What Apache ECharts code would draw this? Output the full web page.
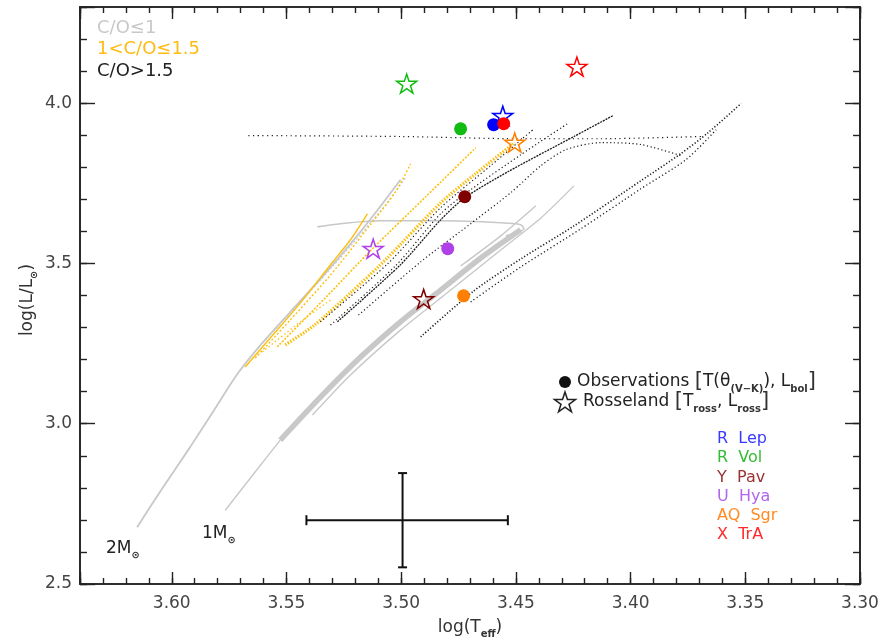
<!DOCTYPE html>
<html><head><meta charset="utf-8">
<script src="https://cdn.jsdelivr.net/npm/echarts@6/dist/echarts.min.js"></script>
<style>html,body{margin:0;padding:0;background:#fff}#c{width:882px;height:642px}</style>
</head><body><div id="c"></div>
<script>
// ---------- tick labels ----------
const xTickLabels = ['3.60','3.55','3.50','3.45','3.40','3.35','3.30'];
const yTickLabels = ['2.5','3.0','3.5','4.0'];

// ---------- stars (observations / Rosseland) ----------
const starNames  = ['R Lep','R Vol','Y Pav','U Hya','AQ Sgr','X TrA'];
const starColors = ['#0000ff','#11bb11','#800000','#b040e8','#ff8000','#ff0000'];
const labelColors= ['#3a3aff','#33bb33','#993333','#b066ee','#ff8a22','#ff2a2a'];
const obsTeff  = [3.4597, 3.4741, 3.4723, 3.4797, 3.4728, 3.4553];
const obsLum   = [3.933, 3.920, 3.708, 3.546, 3.399, 3.936];
const rossTeff = [3.4557, 3.4976, 3.4902, 3.5122, 3.4505, 3.4234];
const rossLum  = [3.961, 4.061, 3.389, 3.546, 3.877, 4.114];

// ---------- error bar ----------
const errCenter = [3.4994, 2.699];
const errT = [3.4535, 3.5413];
const errL = [2.552, 2.846];

// ---------- tracks: C/O <= 1 (grey) ----------
const grey2M = [[3.6151,2.677],[3.6038,2.802],[3.5920,2.927],[3.5815,3.043],[3.5714,3.155],[3.5605,3.252],[3.5483,3.349],[3.5352,3.452],[3.5221,3.561],[3.5112,3.658],[3.5003,3.761]];
const grey2Mb = [[3.5605,3.252],[3.5439,3.380],[3.5243,3.536],[3.5068,3.683],[3.4981,3.767]];
const grey1Mthin = [[3.5767,2.730],[3.5658,2.830],[3.5527,2.949]];
const grey1Mband = [[3.5527,2.949],[3.5352,3.083],[3.5177,3.208],[3.5003,3.318],[3.4828,3.417],[3.4653,3.517],[3.4479,3.605]];
const greyUp  = [[3.4741,3.492],[3.4566,3.586],[3.4413,3.680]];
const greyLow = [[3.5387,3.027],[3.5221,3.152],[3.5003,3.292],[3.4784,3.417],[3.4566,3.542],[3.4391,3.642],[3.4247,3.742]];
const greyH   = [[3.5365,3.614],[3.5265,3.624],[3.5090,3.633],[3.4828,3.633],[3.4566,3.627],[3.4479,3.621],[3.4465,3.608],[3.4544,3.586]];

// ---------- tracks: 1 < C/O <= 1.5 (yellow) ----------
const yel1  = [[3.568,3.177],[3.557,3.268],[3.5439,3.377],[3.5308,3.496],[3.5221,3.574],[3.5147,3.655]];
const yel1b = [[3.5636,3.205],[3.5483,3.324],[3.5308,3.464],[3.5134,3.621],[3.5024,3.724],[3.4959,3.811]];
const yel2  = [[3.554,3.240],[3.533,3.393],[3.5125,3.546],[3.4893,3.708],[3.4675,3.861]];
const yel3  = [[3.5505,3.246],[3.5383,3.305],[3.5221,3.408],[3.5059,3.518],[3.4828,3.689],[3.4675,3.780],[3.4505,3.877]];
const yel4  = [[3.5605,3.224],[3.5439,3.318],[3.5308,3.386]];

// ---------- tracks: C/O > 1.5 (black) ----------
const blkH  = [[3.5666,3.899],[3.5003,3.896],[3.4479,3.889],[3.4129,3.889],[3.3693,3.896]];
const blkM1 = [[3.5352,3.318],[3.5059,3.499],[3.4828,3.674],[3.4610,3.805],[3.4426,3.917]];
const blkM2 = [[3.5308,3.308],[3.5024,3.493],[3.4828,3.655],[3.4697,3.730],[3.4479,3.839],[3.4269,3.939]];
const blkM3 = [[3.5278,3.318],[3.5003,3.496],[3.4828,3.636],[3.4723,3.705],[3.4535,3.786],[3.4247,3.896],[3.4077,3.961]];
const blkM4 = [[3.5186,3.339],[3.4915,3.505],[3.4697,3.624],[3.4522,3.721],[3.4391,3.805],[3.4282,3.855],[3.4129,3.877],[3.3955,3.871],[3.3780,3.836]];
const blkR1 = [[3.4915,3.271],[3.4684,3.414],[3.4479,3.514],[3.4247,3.617],[3.3955,3.758],[3.3780,3.843],[3.3662,3.908],[3.3518,3.999]];
const blkR2 = [[3.4697,3.380],[3.4479,3.489],[3.4217,3.608],[3.3955,3.733],[3.3758,3.824],[3.3627,3.917]];

// ---------- build ----------
const FONT = 'DejaVu Sans';
const AX = '#222';
const GREY = '#c8c8c8', YEL = '#fbbf0e', BLK = '#1a1a1a';
const STAR = 'path://M50,0L61.2,34.5L97.6,34.5L68.2,55.9L79.4,90.5L50,69.1L20.6,90.5L31.8,55.9L2.4,34.5L38.8,34.5Z';

function starPoints(cx, cy, R) {
  const pts = [];
  for (let k = 0; k < 10; k++) {
    const a = -Math.PI/2 + k*Math.PI/5;
    const r = (k % 2 === 0) ? R : R*0.382;
    pts.push([cx + r*Math.cos(a), cy + r*Math.sin(a)]);
  }
  return pts;
}

function xAx(pos, interval, len, labels) {
  return {type:'value', min:3.30, max:3.64, inverse:true, position:pos, interval:interval,
    splitLine:{show:false},
    axisLine:{show:true, lineStyle:{color:AX, width:1.6}},
    axisTick:{show:true, inside:true, length:len, lineStyle:{color:AX, width:1.4}},
    axisLabel: labels ? {margin:11, color:'#444', fontSize:17, fontFamily:FONT,
      formatter: v => xTickLabels.includes(v.toFixed(2)) ? v.toFixed(2) : ''} : {show:false}};
}
function yAx(pos, interval, len, labels) {
  return {type:'value', min:2.5, max:4.3, position:pos, interval:interval,
    splitLine:{show:false},
    axisLine:{show:true, lineStyle:{color:AX, width:1.6}},
    axisTick:{show:true, inside:true, length:len, lineStyle:{color:AX, width:1.4}},
    axisLabel: labels ? {margin:8, color:'#444', fontSize:17, fontFamily:FONT,
      formatter: v => (yTickLabels.includes(v.toFixed(1)) && Math.abs(v*2-Math.round(v*2))<1e-6) ? v.toFixed(1) : ''} : {show:false}};
}

function line(data, color, width, type, z) {
  return {type:'line', data:data, showSymbol:false, symbol:'none', silent:true, z:z||2, smooth:0.25,
    lineStyle:{color:color, width:width, type:type||'solid'}};
}

const series = [
  line(grey2M, GREY, 1.8),
  line(grey2Mb, GREY, 1.2, [2,2]),
  line(grey1Mthin, GREY, 1.4),
  line(grey1Mband, GREY, 5.5),
  line(greyUp, GREY, 1.4),
  line(greyLow, GREY, 1.4),
  line(greyH, GREY, 1.6),
  line(yel1, YEL, 1.4),
  line(yel1b, YEL, 1.4, [2,2]),
  line(yel2, YEL, 1.6, [2,1.5]),
  line(yel3, YEL, 3.2, [1.5,1.5]),
  line(yel4, YEL, 1.2, [1.5,2.5]),
  line(blkH, BLK, 1.2, [1.2,3.5]),
  line(blkM1, BLK, 1.2, [1.2,2.5]),
  line(blkM2, BLK, 1.2, [1.2,2.5]),
  line(blkM3, BLK, 1.3, [2,1]),
  line(blkM4, BLK, 1.2, [1.2,2.5]),
  line(blkR1, BLK, 1.6, [1.2,2]),
  line(blkR2, BLK, 1.3, [1.2,2.5]),
  {type:'custom', silent:true, z:5,
    encode:{x:[0,2,3], y:[1,4,5]},
    data:[[errCenter[0], errCenter[1], errT[0], errT[1], errL[0], errL[1]]],
    renderItem:(params, api) => {
      const cx = api.value(0), cy = api.value(1);
      const l = api.coord([api.value(3), cy]);
      const r = api.coord([api.value(2), cy]);
      const b = api.coord([cx, api.value(4)]);
      const t = api.coord([cx, api.value(5)]);
      const st = {stroke:'#111', lineWidth:2};
      return {type:'group', children:[
        {type:'line', shape:{x1:l[0],y1:l[1],x2:r[0],y2:r[1]}, style:st},
        {type:'line', shape:{x1:l[0],y1:l[1]-5,x2:l[0],y2:l[1]+5}, style:st},
        {type:'line', shape:{x1:r[0],y1:r[1]-5,x2:r[0],y2:r[1]+5}, style:st},
        {type:'line', shape:{x1:t[0],y1:t[1],x2:b[0],y2:b[1]}, style:st},
        {type:'line', shape:{x1:t[0]-4.5,y1:t[1],x2:t[0]+4.5,y2:t[1]}, style:st},
        {type:'line', shape:{x1:b[0]-4.5,y1:b[1],x2:b[0]+4.5,y2:b[1]}, style:st}
      ]};
    }},
  {type:'scatter', z:10, symbol:STAR, symbolSize:[20,19], silent:true,
    data: starNames.map((n,i) => ({name:n, value:[rossTeff[i], rossLum[i]],
      itemStyle:{color:'rgba(255,255,255,0)', borderColor:starColors[i], borderWidth:1.5, opacity:1}}))},
  {type:'scatter', z:11, symbol:'circle', symbolSize:13, silent:true,
    data: starNames.map((n,i) => ({name:n, value:[obsTeff[i], obsLum[i]],
      itemStyle:{color:starColors[i], opacity:1}}))}
];

const subRich = {fontSize:10, fontFamily:FONT, fontWeight:'bold', fill:'#333', verticalAlign:'bottom', lineHeight:10};
const graphic = [
  {type:'text', x:97, y:28, style:{text:'C/O≤1', fill:GREY, font:'18px "DejaVu Sans"', verticalAlign:'middle'}},
  {type:'text', x:97, y:49, style:{text:'1<C/O≤1.5', fill:'#ffbb11', font:'18px "DejaVu Sans"', verticalAlign:'middle'}},
  {type:'text', x:97, y:71, style:{text:'C/O>1.5', fill:'#222', font:'18px "DejaVu Sans"', verticalAlign:'middle'}},
  {type:'circle', shape:{cx:565, cy:382, r:6}, style:{fill:'#111'}},
  {type:'polygon', shape:{points:starPoints(565, 403, 11)}, style:{fill:'none', stroke:'#222', lineWidth:1.5}},
  {type:'text', x:577, y:382, style:{
    text:'{a|Observations }{b|[}{a|T(θ}{s|(V−K)}{a|), L}{s|bol}{b|]}',
    verticalAlign:'middle',
    rich:{a:{fontSize:17, fontFamily:FONT, fill:'#222', lineHeight:24},
          b:{fontSize:21, fontFamily:FONT, fill:'#333', lineHeight:24},
          s:subRich}}},
  {type:'text', x:583, y:402, style:{
    text:'{a|Rosseland }{b|[}{a|T}{s|ross}{a|, L}{s|ross}{b|]}',
    verticalAlign:'middle',
    rich:{a:{fontSize:17, fontFamily:FONT, fill:'#222', lineHeight:24},
          b:{fontSize:21, fontFamily:FONT, fill:'#333', lineHeight:24},
          s:subRich}}},
  {type:'text', x:106, y:549, style:{text:'{a|2M}{s|⊙}', verticalAlign:'middle',
    rich:{a:{fontSize:17, fontFamily:FONT, fill:'#222', lineHeight:22}, s:subRich}}},
  {type:'text', x:202, y:534, style:{text:'{a|1M}{s|⊙}', verticalAlign:'middle',
    rich:{a:{fontSize:17, fontFamily:FONT, fill:'#222', lineHeight:22}, s:subRich}}},
  {type:'text', x:470, y:628, style:{text:'{a|log(T}{s|eff}{a|)}', align:'center', verticalAlign:'middle',
    rich:{a:{fontSize:17, fontFamily:FONT, fill:'#333', lineHeight:22}, s:subRich}}},
  {type:'text', x:28, y:300, rotation:Math.PI/2, style:{text:'{a|log(L/L}{s|⊙}{a|)}', align:'center', verticalAlign:'middle',
    rich:{a:{fontSize:17, fontFamily:FONT, fill:'#333', lineHeight:22}, s:subRich}}}
].concat(starNames.map((n,i) => ({type:'text', x:717, y:439 + i*19.2,
  style:{text:n.replace(' ', '  '), fill:labelColors[i], font:'16px "DejaVu Sans"', verticalAlign:'middle'}})));

const chart = echarts.init(document.getElementById('c'));
chart.setOption({
  animation:false,
  backgroundColor:'#fff',
  grid:{left:80, right:22, top:7, bottom:58, containLabel:false},
  xAxis:[xAx('bottom',0.05,12,true), xAx('bottom',0.01,6,false), xAx('top',0.05,12,false), xAx('top',0.01,6,false)],
  yAxis:[yAx('left',0.5,15,true), yAx('left',0.1,7,false), yAx('right',0.5,15,false), yAx('right',0.1,7,false)],
  series:series,
  graphic:graphic
});
</script>
</body></html>
